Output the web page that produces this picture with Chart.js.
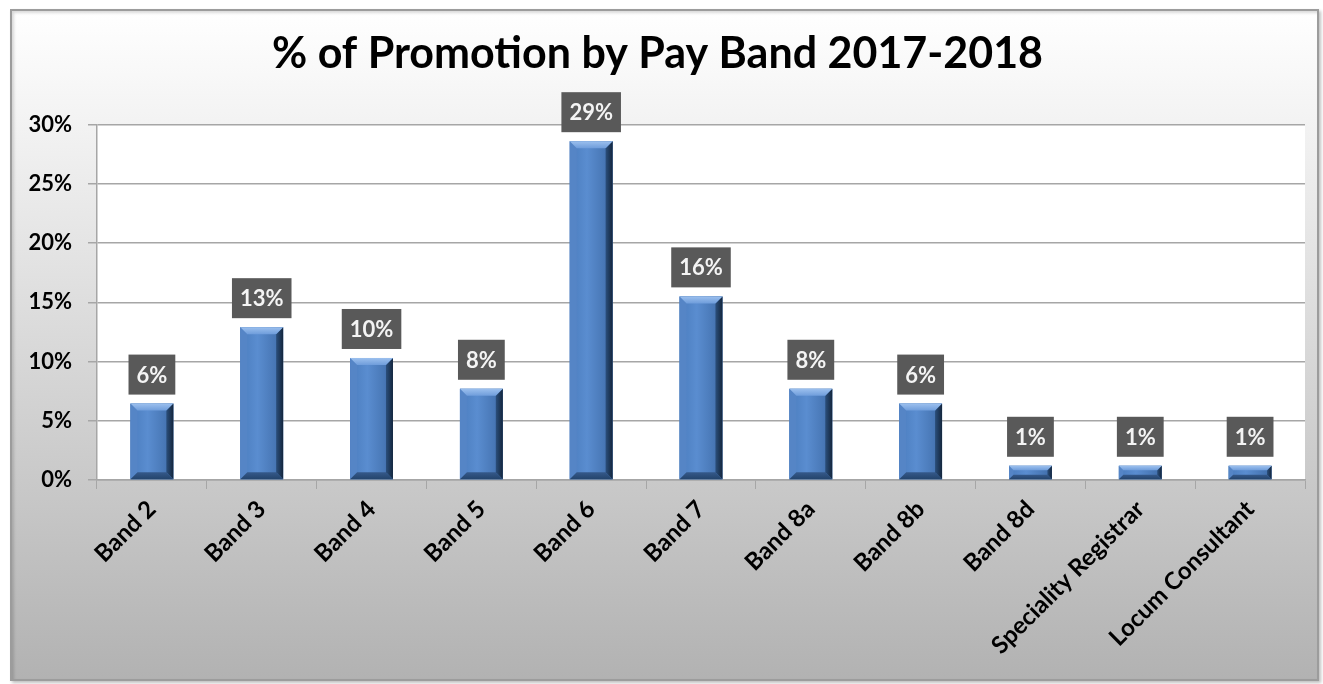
<!DOCTYPE html>
<html lang="en">
<head>
  <meta charset="UTF-8">
  <title>% of Promotion by Pay Band 2017-2018</title>
  <script src="https://cdn.jsdelivr.net/npm/chart.js"></script>
  <style>
    html, body {
      margin: 0;
      padding: 0;
      background: #fff;
      width: 1323px;
      height: 684px;
      overflow: hidden;
    }
    #frame {
      position: absolute;
      left: 10px;
      top: 9px;
      width: 1305px;
      height: 668px;
      border: 2px solid #9c9c9c;
      background: linear-gradient(to bottom, #ffffff 0%, #f4f4f4 15%, #b2b2b2 100%);
      box-shadow: inset 2px 2px 3px rgba(0,0,0,0.15), 2px 2px 3px rgba(0,0,0,0.25);
    }
    #chart {
      position: absolute;
      left: 0;
      top: 0;
    }
  </style>
</head>
<body>

<div id="frame"></div>
<canvas id="chart" width="1323" height="684"></canvas>

<script>
  const bands = ['Band 2', 'Band 3', 'Band 4', 'Band 5', 'Band 6', 'Band 7',
                 'Band 8a', 'Band 8b', 'Band 8d', 'Speciality Registrar', 'Locum Consultant'];
  const promotionPct = [6.45, 12.9, 10.3, 7.7, 28.6, 15.5, 7.7, 6.45, 1.2, 1.2, 1.2];
  const yTicks = [0, 5, 10, 15, 20, 25, 30];

  const FONT = 'Lato, "Open Sans", sans-serif';

  // white plot area on top of the grey gradient
  const plotBackground = {
    id: 'plotBackground',
    beforeDraw(chart) {
      const a = chart.chartArea;
      const ctx = chart.ctx;
      ctx.save();
      ctx.fillStyle = '#ffffff';
      ctx.fillRect(a.left, a.top, a.right - a.left, a.bottom - a.top);
      ctx.restore();
    }
  };

  // bevelled edges over each bar
  const bevelBars = {
    id: 'bevelBars',
    afterDatasetsDraw(chart) {
      const ctx = chart.ctx;
      chart.getDatasetMeta(0).data.forEach(bar => {
        const p = bar.getProps(['x', 'y', 'base', 'width'], true);
        const l = p.x - p.width / 2, r = p.x + p.width / 2;
        const t = p.y, btm = p.base;
        const b = Math.min(7, (btm - t) / 3);
        ctx.save();
        // face
        const face = ctx.createLinearGradient(l, 0, r, 0);
        face.addColorStop(0, '#4a7cbd');
        face.addColorStop(0.4, '#5a8dd0');
        face.addColorStop(1, '#3f6ca8');
        ctx.fillStyle = face;
        ctx.fillRect(l, t, r - l, btm - t);
        // left edge
        ctx.fillStyle = '#5585c6';
        ctx.beginPath();
        ctx.moveTo(l, t); ctx.lineTo(l + b, t + b); ctx.lineTo(l + b, btm - b); ctx.lineTo(l, btm);
        ctx.closePath(); ctx.fill();
        // right edge
        const rg = ctx.createLinearGradient(r - b, 0, r, 0);
        rg.addColorStop(0, '#2b4f7c');
        rg.addColorStop(1, '#14263d');
        ctx.fillStyle = rg;
        ctx.beginPath();
        ctx.moveTo(r, t); ctx.lineTo(r, btm); ctx.lineTo(r - b, btm - b); ctx.lineTo(r - b, t + b);
        ctx.closePath(); ctx.fill();
        // bottom edge
        const bg = ctx.createLinearGradient(0, btm - b, 0, btm);
        bg.addColorStop(0, '#35598a');
        bg.addColorStop(1, '#24446c');
        ctx.fillStyle = bg;
        ctx.beginPath();
        ctx.moveTo(l, btm); ctx.lineTo(r, btm); ctx.lineTo(r - b, btm - b); ctx.lineTo(l + b, btm - b);
        ctx.closePath(); ctx.fill();
        // top edge
        const tg = ctx.createLinearGradient(0, t, 0, t + b);
        tg.addColorStop(0, '#9cc0ee');
        tg.addColorStop(1, '#6f9ddb');
        ctx.fillStyle = tg;
        ctx.beginPath();
        ctx.moveTo(l, t); ctx.lineTo(r, t); ctx.lineTo(r - b, t + b); ctx.lineTo(l + b, t + b);
        ctx.closePath(); ctx.fill();
        ctx.restore();
      });
    }
  };

  // value boxes above the bars
  const valueBoxes = {
    id: 'valueBoxes',
    afterDatasetsDraw(chart) {
      const ctx = chart.ctx;
      ctx.save();
      ctx.font = 'bold 22px ' + FONT;
      ctx.textAlign = 'center';
      ctx.textBaseline = 'middle';
      chart.getDatasetMeta(0).data.forEach((bar, i) => {
        const text = Math.round(promotionPct[i]) + '%';
        const w = ctx.measureText(text).width + 16;
        const h = 40;
        const bottom = bar.y - 9;
        ctx.fillStyle = '#595959';
        ctx.fillRect(bar.x - w / 2, bottom - h, w, h);
        ctx.fillStyle = '#f4f4f4';
        ctx.fillText(text, bar.x, bottom - h / 2 + 1);
      });
      ctx.restore();
    }
  };

  new Chart(document.getElementById('chart'), {
    type: 'bar',
    data: {
      labels: bands,
      datasets: [{
        data: promotionPct,
        backgroundColor: '#4f81bd',
        barPercentage: 0.39,
        categoryPercentage: 1.0
      }]
    },
    options: {
      responsive: false,
      animation: false,
      layout: { padding: { left: 10, right: 18, top: 0, bottom: 4 } },
      plugins: {
        legend: { display: false },
        tooltip: { enabled: false },
        title: {
          display: true,
          text: '% of Promotion by Pay Band 2017-2018',
          color: '#000',
          font: { family: FONT, size: 43, weight: 'bold', lineHeight: 1.2 },
          padding: { top: 28, bottom: 45 }
        }
      },
      scales: {
        x: {
          grid: {
            offset: true,
            drawOnChartArea: false,
            drawTicks: true,
            tickLength: 9,
            color: '#a6a6a6'
          },
          border: { color: '#a6a6a6', width: 1.5 },
          ticks: {
            autoSkip: false,
            minRotation: 45,
            maxRotation: 45,
            color: '#000',
            padding: 6,
            font: { family: FONT, size: 24, weight: 'bold' }
          },
          afterFit(scale) { scale.height = 200; }
        },
        y: {
          min: 0,
          max: 30,
          afterBuildTicks(scale) {
            scale.ticks = yTicks.map(v => ({ value: v }));
          },
          grid: {
            color: '#a6a6a6',
            lineWidth: 1.5,
            tickLength: 9
          },
          border: { color: '#a6a6a6', width: 1.5 },
          ticks: {
            color: '#000',
            padding: 16,
            font: { family: FONT, size: 22, weight: 'bold' },
            callback: v => v + '%'
          },
          afterFit(scale) { scale.width = 87; }
        }
      }
    },
    plugins: [plotBackground, bevelBars, valueBoxes]
  });
</script>

</body>
</html>
